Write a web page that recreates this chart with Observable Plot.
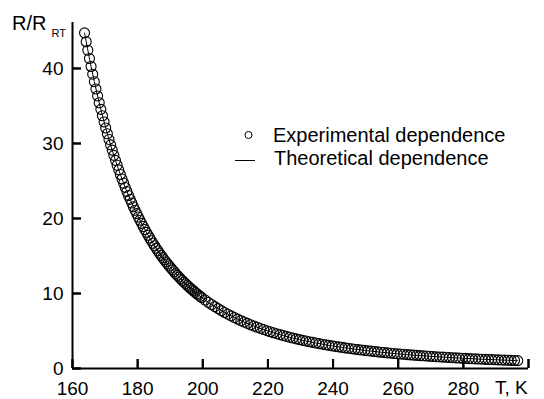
<!DOCTYPE html>
<html>
<head>
<meta charset="utf-8">
<script src="https://cdn.jsdelivr.net/npm/d3@7"></script>
<script src="https://cdn.jsdelivr.net/npm/@observablehq/plot@0.6"></script>
<style>
  html, body { margin: 0; padding: 0; background: #fff; }
  #wrap { position: relative; width: 544px; height: 399px; overflow: hidden; }
  #ann { position: absolute; left: 0; top: 0; }
  text { font-family: "Liberation Sans", Arial, sans-serif; }
</style>
</head>
<body>
<div id="wrap">
  <div id="chart"></div>
  <svg id="ann" width="544" height="399" font-family="Liberation Sans, Arial, sans-serif" fill="black">
    <text x="12" y="30" font-size="20">R/R<tspan font-size="11" dx="5" dy="7">RT</tspan></text>
    <text x="495" y="394" font-size="19">T, K</text>
    <circle cx="248.5" cy="135" r="3.5" fill="none" stroke="black" stroke-width="1"></circle>
    <text x="273" y="141.5" font-size="20">Experimental dependence</text>
    <line x1="235" x2="255" y1="160.5" y2="160.5" stroke="black" stroke-width="1"></line>
    <text x="274" y="165" font-size="20">Theoretical dependence</text>
  </svg>
</div>
<script>
// Experimental points: temperature T (K) and resistance ratio R/R_RT
const expT = [
  163.7, 164.2, 164.7, 165.2, 165.7, 166.2, 166.7, 167.2, 167.7, 168.2,
  168.7, 169.2, 169.7, 170.2, 170.7, 171.2, 171.7, 172.2, 172.7, 173.2,
  173.7, 174.2, 174.7, 175.2, 175.7, 176.2, 176.7, 177.2, 177.7, 178.2,
  178.7, 179.2, 179.7, 180.2, 180.7, 181.2, 181.7, 182.2, 182.7, 183.2,
  183.7, 184.2, 184.7, 185.2, 185.7, 186.2, 186.7, 187.2, 187.7, 188.2,
  188.7, 189.2, 189.7, 190.2, 190.7, 191.2, 191.7, 192.2, 192.7, 193.2,
  193.7, 194.2, 194.7, 195.2, 195.7, 196.2, 196.7, 197.2, 197.7, 198.2,
  198.7, 199.2, 199.7,
  200.7, 201.7, 202.7, 203.7, 204.7, 205.7, 206.7, 207.7, 208.7, 209.7,
  210.7, 211.7, 212.7, 213.7, 214.7, 215.7, 216.7, 217.7, 218.7, 219.7,
  220.7, 221.7, 222.7, 223.7, 224.7, 225.7, 226.7, 227.7, 228.7, 229.7,
  230.7, 231.7, 232.7, 233.7, 234.7, 235.7, 236.7, 237.7, 238.7, 239.7,
  240.7, 241.7, 242.7, 243.7, 244.7, 245.7, 246.7, 247.7, 248.7, 249.7,
  250.7, 251.7, 252.7, 253.7, 254.7, 255.7, 256.7, 257.7, 258.7, 259.7,
  260.7, 261.7, 262.7, 263.7, 264.7, 265.7, 266.7, 267.7, 268.7, 269.7,
  270.7, 271.7, 272.7, 273.7, 274.7, 275.7, 276.7, 277.7, 278.7, 279.7,
  280.7, 281.7, 282.7, 283.7, 284.7, 285.7, 286.7, 287.7, 288.7, 289.7,
  290.7, 291.7, 292.7, 293.7, 294.7, 295.7, 296.7
];
const expR = [
  44.75, 43.57, 42.43, 41.33, 40.27, 39.24, 38.24, 37.27, 36.34, 35.43,
  34.55, 33.70, 32.87, 32.07, 31.30, 30.54, 29.81, 29.11, 28.42, 27.75,
  27.10, 26.48, 25.87, 25.27, 24.70, 24.14, 23.60, 23.07, 22.56, 22.06,
  21.57, 21.10, 20.65, 20.20, 19.77, 19.35, 18.94, 18.54, 18.15, 17.77,
  17.40, 17.04, 16.69, 16.36, 16.02, 15.70, 15.39, 15.08, 14.78, 14.49,
  14.21, 13.93, 13.66, 13.40, 13.15, 12.90, 12.65, 12.41, 12.18, 11.95,
  11.73, 11.52, 11.31, 11.10, 10.90, 10.70, 10.51, 10.33, 10.14, 9.96,
  9.79, 9.62, 9.45,
  9.13, 8.82, 8.53, 8.25, 7.98, 7.72, 7.47, 7.24, 7.01, 6.79,
  6.58, 6.38, 6.19, 6.01, 5.83, 5.66, 5.50, 5.34, 5.19, 5.04,
  4.90, 4.77, 4.64, 4.51, 4.39, 4.28, 4.16, 4.06, 3.95, 3.85,
  3.75, 3.66, 3.57, 3.48, 3.40, 3.31, 3.24, 3.16, 3.08, 3.01,
  2.94, 2.88, 2.81, 2.75, 2.69, 2.63, 2.57, 2.52, 2.46, 2.41,
  2.36, 2.31, 2.26, 2.22, 2.17, 2.13, 2.08, 2.04, 2.00, 1.96,
  1.93, 1.89, 1.85, 1.82, 1.78, 1.75, 1.72, 1.69, 1.66, 1.63,
  1.60, 1.57, 1.54, 1.52, 1.49, 1.46, 1.44, 1.42, 1.39, 1.37,
  1.35, 1.32, 1.30, 1.28, 1.26, 1.24, 1.22, 1.20, 1.19, 1.17,
  1.15, 1.13, 1.12, 1.10, 1.08, 1.07, 1.05
];
// Theoretical dependence
const theoT = [163.7, 165.7, 167.7, 169.7, 171.7, 173.7, 175.7, 177.7, 179.7, 182.7,
  185.7, 188.7, 191.7, 194.7, 197.7, 200.7, 204.7, 209.7, 214.7, 219.7,
  224.7, 229.7, 234.7, 239.7, 244.7, 249.7, 254.7, 259.7, 264.7, 269.7,
  274.7, 279.7, 284.7, 289.7, 296.7];
const theoR = [44.75, 40.27, 36.34, 32.87, 29.81, 27.10, 24.70, 22.56, 20.65, 18.15,
  16.02, 14.21, 12.65, 11.31, 10.14, 9.13, 7.98, 6.79, 5.83, 5.04,
  4.39, 3.85, 3.40, 3.01, 2.69, 2.41, 2.17, 1.96, 1.78, 1.63,
  1.49, 1.37, 1.26, 1.17, 1.05];
// Axis ticks
const xTicks = [160, 180, 200, 220, 240, 260, 280, 300];
const xTickLabels = [160, 180, 200, 220, 240, 260, 280];
const yTicks = [0, 10, 20, 30, 40];

const expData = expT.map((t, i) => ({T: t, R: expR[i]}));
const theoData = theoT.map((t, i) => ({T: t, R: theoR[i]}));

const W = 544, H = 399, mL = 72, mR = 16, mT = 22, mB = 31;
const xDomain = [160, 300], yDomain = [0, 46.13];
const tickLen = 9; // px
const xTickUnits = tickLen * (xDomain[1] - xDomain[0]) / (W - mL - mR);
const yTickUnits = tickLen * (yDomain[1] - yDomain[0]) / (H - mT - mB);

const chart = Plot.plot({
  width: W,
  height: H,
  marginLeft: mL,
  marginRight: mR,
  marginTop: mT,
  marginBottom: mB,
  style: {
    fontFamily: "Liberation Sans, Arial, sans-serif",
    fontSize: "19px",
    color: "black",
    background: "white",
    overflow: "visible"
  },
  x: {domain: xDomain, label: null},
  y: {domain: yDomain, label: null},
  marks: [
    // tick labels
    Plot.axisX(xTickLabels, {tickSize: 0, tickPadding: 12.5, label: null, fontSize: 19}),
    Plot.axisY(yTicks, {tickSize: 0, tickPadding: 9, label: null, fontSize: 19}),
    // inward tick marks (Plot's own axis ticks, shifted inside the frame)
    Plot.axisX(xTicks, {tickSize: tickLen, dy: -tickLen, strokeWidth: 2, stroke: "black", tickFormat: () => "", label: null}),
    Plot.axisY(yTicks, {tickSize: tickLen, dx: tickLen, strokeWidth: 2, stroke: "black", tickFormat: () => "", label: null}),
    // same inward ticks as rules, expressed in scale units
    Plot.ruleX(xTicks, {x: d => d, y1: () => yDomain[0], y2: () => yDomain[0] + yTickUnits, strokeWidth: 2, stroke: "black"}),
    Plot.ruleY(yTicks, {y: d => d, x1: () => xDomain[0], x2: () => xDomain[0] + xTickUnits, strokeWidth: 2, stroke: "black"}),
    // axis lines
    Plot.ruleX([xDomain[0]], {strokeWidth: 2, stroke: "black"}),
    Plot.ruleY([yDomain[0]], {strokeWidth: 2, stroke: "black"}),
    Plot.dot(expData, {x: "T", y: "R", r: 5, stroke: "black", fill: "none", strokeWidth: 1.1}),
    Plot.line(theoData, {x: "T", y: "R", stroke: "black", strokeWidth: 1, curve: "catmull-rom"})
  ]
});
document.getElementById("chart").appendChild(chart);
</script>
</body>
</html>
